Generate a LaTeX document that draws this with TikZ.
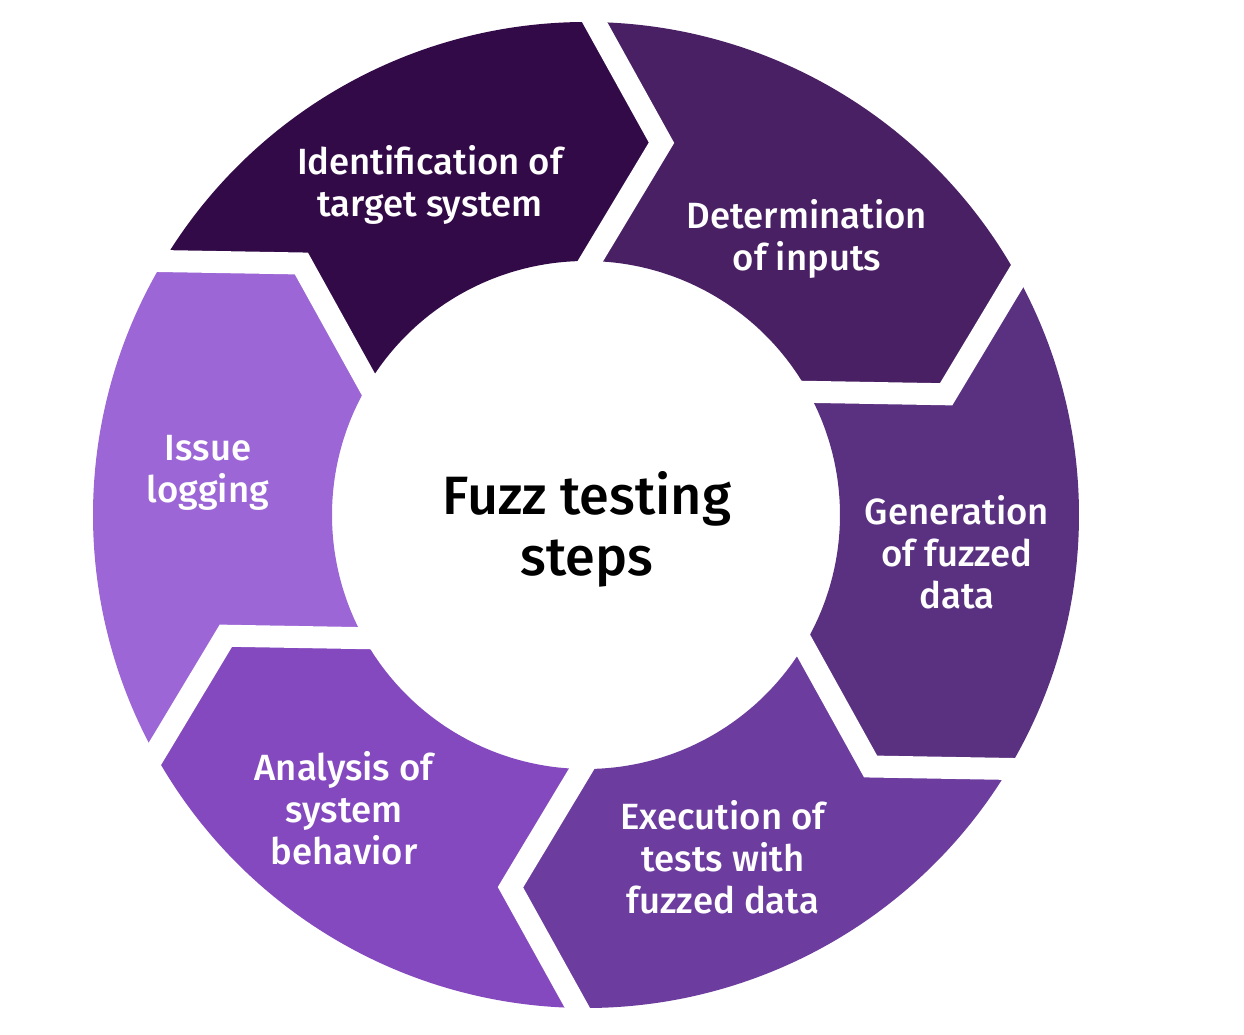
\documentclass[tikz,border=0pt]{standalone}
\usepackage{fontspec}
\setmainfont{Fira Sans}[UprightFont=* Medium]
\usetikzlibrary{calc}
\definecolor{FuzzIdent}{HTML}{330A48}
\definecolor{FuzzInput}{HTML}{4A2064}
\definecolor{FuzzGen}{HTML}{5A3180}
\definecolor{FuzzExec}{HTML}{6C3C9E}
\definecolor{FuzzAnal}{HTML}{8449BE}
\definecolor{FuzzIssue}{HTML}{9C66D6}
\tikzset{
  steplabel/.style={text=white,align=center,inner sep=0pt,
    font=\fontsize{36.5}{42}\selectfont},
  hublabel/.style={text=black,align=center,inner sep=0pt,
    font=\fontsize{54}{61}\selectfont},
  gapline/.style={draw=white,line width=22pt,line join=miter}
}
% ring segment: trailing boundary angle, colour
\newcommand{\ringseg}[2]{%
  \fill[#2] (#1:493pt) arc[start angle=#1, end angle=#1-60, radius=493pt]
    -- ($(#1-60:373.5pt)+(#1-150:69pt)$) -- (#1-60:254pt)
    arc[start angle=#1-60, end angle=#1, radius=254pt]
    -- ($(#1:373.5pt)+(#1-90:69pt)$) -- cycle;}
% white chevron gap on one boundary
\newcommand{\ringgap}[2]{%
  \coordinate (o#2) at (#1:493pt);
  \coordinate (i#2) at (#1:254pt);
  \coordinate (t#2) at ($(#1:373.5pt)+(#1-90:69pt)$);
  \draw[gapline] ($(t#2)!1.4!(o#2)$) -- (t#2) -- ($(t#2)!1.4!(i#2)$);}

\begin{document}
\begin{tikzpicture}[x=1pt,y=1pt]
  \fill[white] (-586,-520) rectangle (658,515);
  \useasboundingbox (-586,-520) rectangle (658,515);
  % segments, clockwise from the top left
  \ringseg{149}{FuzzIdent}
  \ringseg{89}{FuzzInput}
  \ringseg{29}{FuzzGen}
  \ringseg{-31}{FuzzExec}
  \ringseg{-91}{FuzzAnal}
  \ringseg{-151}{FuzzIssue}
  \ringgap{89}{a} \ringgap{29}{b} \ringgap{-31}{c}
  \ringgap{-91}{d} \ringgap{-151}{e} \ringgap{149}{f}
  % labels
  \node[hublabel] (hub) at (1,-14) {Fuzz testing\\steps};
  \node[steplabel] (ident) at (-156,330) {Identification of\\target system};
  \node[steplabel] (input) at (221,276) {Determination\\of inputs};
  \node[steplabel] (gen) at (371,-37) {Generation\\of fuzzed\\data};
  \node[steplabel] (exec) at (137,-342) {Execution of\\tests with\\fuzzed data};
  \node[steplabel] (anal) at (-242,-293) {Analysis of\\system\\behavior};
  \node[steplabel] (issue) at (-378,42) {Issue\\logging};
\end{tikzpicture}
\end{document}
